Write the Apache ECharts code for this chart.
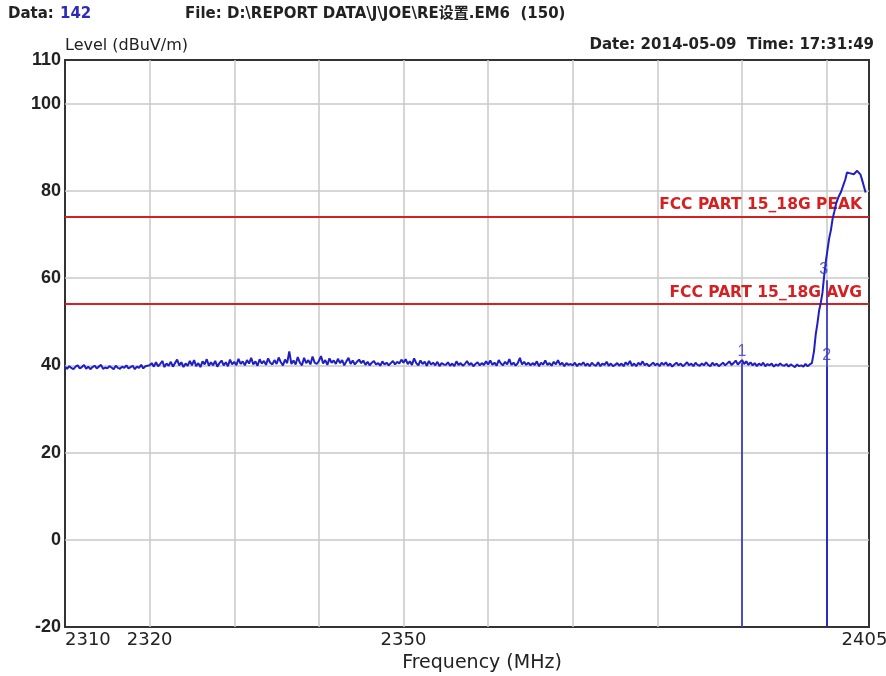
<!DOCTYPE html>
<html>
<head>
<meta charset="utf-8">
<title>Level vs Frequency</title>
<script src="https://cdn.jsdelivr.net/npm/echarts@6/dist/echarts.min.js"></script>
<style>
  html, body { margin: 0; padding: 0; background: #ffffff; }
  #chart { width: 886px; height: 676px; }
</style>
</head>
<body>
<div id="chart"></div>
<script>
// Sweep: noise floor sampled every 0.25 MHz from 2310 MHz
const noiseStartMHz = 2310;
const noiseStepMHz = 0.25;
const noiseLevel = [
  39.7, 39.2, 39.8, 39.4, 39.1, 39.7, 40.0, 39.3, 39.6, 40.1, 39.2, 39.7, 39.1, 39.6, 39.9, 39.3, 39.7, 40.1, 39.2, 39.5,
  39.3, 39.8, 39.5, 39.1, 39.9, 39.4, 39.2, 39.7, 39.4, 40.0, 39.3, 39.6, 39.9, 39.1, 39.7, 39.4, 40.1, 39.3, 39.8, 39.9,
  40.0, 40.5, 39.7, 40.7, 39.8, 40.3, 41.0, 39.6, 40.4, 39.9, 40.8, 39.7, 40.5, 41.3, 40.0, 40.7, 39.6, 40.4, 39.9, 41.0,
  40.0, 41.2, 39.8, 40.5, 39.6, 40.9, 40.2, 41.4, 39.9, 40.7, 40.0, 41.0, 39.7, 40.5, 41.1, 40.0, 40.7, 39.8, 41.3, 40.2,
  40.8, 40.0, 41.5, 40.3, 40.9, 40.0, 41.2, 40.4, 41.7, 40.2, 40.9, 39.9, 41.4, 40.4, 41.0, 40.1, 41.6, 40.6, 40.2, 41.2,
  40.3, 41.8, 40.7, 40.0, 41.3, 40.5, 43.2, 40.3, 41.1, 40.2, 41.9, 40.6, 40.0, 41.7, 40.5, 41.2, 40.2, 42.0, 40.6, 40.3,
  41.0, 42.1, 40.4, 41.2, 40.1, 41.6, 40.6, 41.1, 40.3, 41.5, 40.5, 41.2, 40.0, 40.9, 41.7, 40.3, 41.1, 40.2, 40.8, 41.3,
  40.5, 41.1, 40.1, 40.8, 40.0, 40.6, 41.0, 40.2, 40.5, 39.9, 40.9, 40.2, 40.6, 40.0, 40.5, 41.0, 40.2, 40.8, 40.4, 41.3,
  40.6, 41.4, 40.3, 40.9, 40.1, 41.6, 40.5, 40.0, 41.1, 40.3, 40.8, 39.9, 41.0, 40.2, 40.6, 40.0, 40.8, 39.8, 40.5, 40.2,
  40.1, 40.7, 39.9, 40.4, 39.8, 40.9, 40.1, 40.5, 39.9, 40.3, 41.0, 40.1, 40.5, 39.8, 40.3, 40.7, 40.0, 40.5, 40.1, 40.9,
  40.2, 41.1, 40.1, 40.6, 39.9, 41.2, 40.4, 40.0, 40.8, 40.2, 41.4, 40.1, 40.6, 39.9, 40.5, 41.7, 40.2, 40.8, 40.1, 40.6,
  40.0, 40.5, 40.1, 40.9, 39.8, 40.6, 40.2, 41.1, 40.1, 40.5, 39.9, 40.8, 40.2, 41.2, 40.1, 40.6, 39.8, 40.5, 40.1, 40.3,
  40.0, 40.6, 39.8, 40.4, 40.1, 40.7, 39.9, 40.4, 39.8, 40.6, 40.1, 39.9, 40.7, 39.8, 40.4, 40.1, 40.8, 39.9, 40.4, 39.8,
  40.1, 40.5, 39.9, 40.4, 39.8, 40.7, 40.1, 41.0, 39.9, 40.4, 39.8, 40.6, 40.1, 40.9, 40.0, 40.4, 39.8, 40.2, 40.6, 40.0,
  40.4, 39.8, 40.6, 40.1, 40.7, 39.9, 40.4, 39.7, 40.2, 40.6, 40.0, 40.4, 39.8, 40.2, 40.7, 40.0, 40.4, 39.8, 40.6, 40.1,
  39.9, 40.4, 40.0, 40.7, 40.1, 39.8, 40.6, 40.0, 40.4, 39.8, 40.2, 40.6, 40.0, 40.4, 40.9, 40.1, 40.5, 41.1, 40.2, 40.7,
  41.2, 40.3, 40.9, 40.1, 40.7, 40.0, 40.5, 39.8, 40.4, 40.0, 40.6, 39.8, 40.3, 40.0, 40.4, 39.7, 40.2, 39.9, 40.4, 40.0,
  39.9, 40.3, 39.7, 40.2, 39.9, 39.6, 40.2, 39.8, 40.0, 39.7, 40.3, 39.8, 40.2, 40.5
];

// Band edge: signal rising above the floor near 2400 MHz
const edgeFreq = [
  2398.35, 2398.5, 2398.7, 2398.9, 2399.1, 2399.3, 2399.5, 2399.7, 2399.9, 2400.1,
  2400.3, 2400.5, 2400.7, 2400.9, 2401.1, 2401.4, 2401.7, 2402.0, 2402.2, 2402.4,
  2402.6, 2402.8, 2403.0, 2403.2, 2403.4, 2403.6, 2403.8, 2404.0, 2404.2, 2404.4, 2404.6
];
const edgeLevel = [
  40.9, 43.2, 47.0, 49.5, 52.5, 54.3, 56.6, 60.5, 63.8, 66.5,
  69.2, 71.0, 73.6, 75.2, 77.0, 78.6, 79.8, 81.5, 82.6, 84.2,
  84.4, 84.0, 84.3, 83.8, 84.0, 84.6, 84.2, 83.7, 82.4, 81.0, 79.6
];

// Limit lines (dBuV/m)
const limitNames = ['FCC PART 15_18G PEAK', 'FCC PART 15_18G AVG'];
const limitLevels = [74, 54];

// Markers
const markerIds = ['1', '2', '3'];
const markerFreq = [2390, 2400, 2400];
const markerLevel = [40.6, 39.6, 59.5];

// Axis settings and labels
const xMin = 2310, xMax = 2405;
const yMin = -20, yMax = 110;
const xLabelValues = [2310, 2320, 2350, 2405];

const WIDE = "'DejaVu Sans', 'Noto Sans CJK SC', sans-serif";
const FONT = "'Liberation Sans', Arial, sans-serif";
const TEXT = '#222222';
const TRACE = '#1f1fc4';
const LIMIT = '#d42020';

const trace = [];
noiseLevel.forEach((v, i) => trace.push([noiseStartMHz + i * noiseStepMHz, v]));
edgeFreq.forEach((f, i) => trace.push([f, edgeLevel[i]]));

const chart = echarts.init(document.getElementById('chart'), null, { renderer: 'canvas' });

function txt(x, y, text, font, fill, align) {
  return {
    type: 'text', x: x, y: y, z: 10,
    style: { text: text, font: font, fill: fill, align: align || 'left', verticalAlign: 'middle' }
  };
}

chart.setOption({
  animation: false,
  backgroundColor: '#ffffff',
  grid: {
    left: 65, right: 17, top: 60, bottom: 49,
    containLabel: false, outerBoundsMode: 'none',
    show: true, borderColor: '#333333', borderWidth: 2, backgroundColor: 'transparent'
  },
  xAxis: {
    type: 'value', min: xMin, max: xMax, interval: 10,
    axisLine: { show: false }, axisTick: { show: false },
    splitLine: {
      show: true, showMinLine: false, showMaxLine: false,
      lineStyle: { color: '#c9c9c9', width: 1.5 }
    },
    axisLabel: {
      interval: 0, hideOverlap: false, margin: 4,
      fontFamily: WIDE, fontSize: 18, color: TEXT,
      alignMinLabel: 'left',
      formatter: v => (v === xMax ? '{end|' + v + '}' : (xLabelValues.indexOf(v) >= 0 ? String(v) : '')),
      rich: { end: { fontFamily: WIDE, fontSize: 18, color: TEXT, padding: [0, 9, 0, 0] } }
    }
  },
  yAxis: {
    type: 'value', min: yMin, max: yMax, interval: 20,
    axisLine: { show: false }, axisTick: { show: false },
    splitLine: {
      show: true, showMinLine: false, showMaxLine: false,
      lineStyle: { color: '#c9c9c9', width: 1.5 }
    },
    axisLabel: {
      margin: 4, fontFamily: FONT, fontSize: 18, fontWeight: 'bold', color: TEXT
    }
  },
  graphic: [
    txt(8, 14, 'Data:', 'bold 15px ' + WIDE, TEXT),
    txt(60, 14, '142', 'bold 15px ' + WIDE, '#2b2bb8'),
    txt(185, 14, 'File: D:\\REPORT DATA\\J\\JOE\\RE设置.EM6  (150)', 'bold 15px ' + WIDE, TEXT),
    txt(874, 45, 'Date: 2014-05-09  Time: 17:31:49', 'bold 15px ' + WIDE, TEXT, 'right'),
    txt(65, 46, 'Level (dBuV/m)', '16px ' + WIDE, TEXT),
    txt(482, 663, 'Frequency (MHz)', '19px ' + WIDE, TEXT, 'center')
  ],
  series: [
    {
      name: 'Level',
      type: 'line',
      data: trace,
      showSymbol: false,
      symbol: 'none',
      lineStyle: { color: TRACE, width: 2 },
      z: 5,
      markLine: {
        silent: true, symbol: 'none',
        lineStyle: { color: LIMIT, width: 2, type: 'solid' },
        label: {
          position: 'insideEndTop', distance: [7, 4],
          fontFamily: WIDE, fontSize: 15.5, fontWeight: 'bold', color: LIMIT
        },
        data: limitLevels.map((y, i) => ({ yAxis: y, label: { formatter: limitNames[i] } }))
      }
    },
    {
      name: 'Markers',
      type: 'scatter',
      data: markerFreq.map((f, i) => ({
        value: [f, markerLevel[i]], name: markerIds[i],
        label: { offset: [i === 2 ? -3 : 0, 0] }
      })),
      symbolSize: 0,
      z: 6,
      label: {
        show: true, position: 'top', distance: 3,
        formatter: p => p.name,
        fontFamily: FONT, fontSize: 16, color: '#3535c8'
      },
      markLine: {
        silent: true, symbol: 'none',
        lineStyle: { color: TRACE, width: 1.5, type: 'solid' },
        label: { show: false },
        data: markerFreq.map((f, i) => [
          { coord: [f, markerLevel[i]] },
          { coord: [f, yMin] }
        ])
      }
    }
  ]
});
</script>
</body>
</html>
